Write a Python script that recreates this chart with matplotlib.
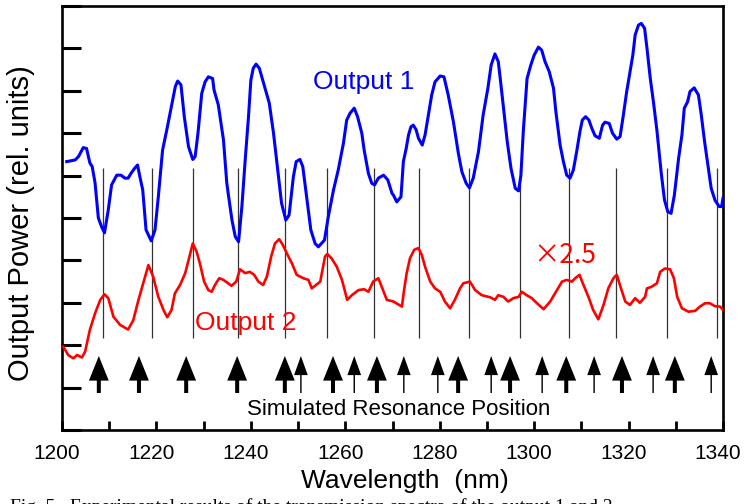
import matplotlib
matplotlib.use('Agg')
import matplotlib.pyplot as plt
import matplotlib.transforms as mtransforms

# Output 1 (blue)
blue_wl = [1201.0, 1202.8, 1203.5, 1204.5, 1205.2, 1205.9, 1206.4, 1207.0, 1207.7, 1208.4,
           1209.0, 1209.8, 1210.5, 1211.6, 1212.5, 1213.3, 1214.0, 1214.6, 1215.3, 1216.0,
           1216.5, 1217.1, 1217.8, 1218.3, 1218.9, 1219.7, 1220.4, 1221.3, 1222.2, 1222.9,
           1223.5, 1224.0, 1224.5, 1225.2, 1225.9, 1226.8, 1227.7, 1228.2, 1228.8, 1229.6,
           1230.3, 1231.0, 1231.9, 1232.2, 1233.1, 1234.2, 1234.9, 1235.2, 1236.0, 1236.7,
           1237.4, 1238.1, 1238.8, 1239.5, 1240.0, 1240.5, 1241.1, 1241.8, 1242.9, 1243.9,
           1244.8, 1245.7, 1246.5, 1247.4, 1248.1, 1249.0, 1249.6, 1250.4, 1251.0, 1251.8,
           1252.7, 1253.6, 1254.3, 1255.6, 1256.4, 1257.5, 1258.5, 1259.6, 1260.3, 1261.0,
           1261.9, 1262.6, 1263.5, 1264.0, 1264.9, 1265.6, 1266.2, 1267.0, 1268.1, 1269.0,
           1269.9, 1270.2, 1270.9, 1271.8, 1272.3, 1272.9, 1273.4, 1273.9, 1274.4, 1275.0,
           1275.5, 1276.3, 1276.9, 1277.6, 1278.3, 1279.0, 1280.1, 1280.9, 1281.8, 1282.9,
           1284.0, 1284.7, 1285.6, 1286.3, 1287.1, 1288.2, 1289.2, 1290.2, 1290.9, 1291.7,
           1292.4, 1292.9, 1293.6, 1294.3, 1295.1, 1296.0, 1296.7, 1297.2, 1297.7, 1298.5,
           1299.3, 1300.0, 1300.9, 1301.6, 1302.3, 1303.2, 1304.1, 1304.6, 1305.5, 1306.2,
           1306.9, 1307.6, 1308.3, 1309.0, 1309.7, 1310.2, 1310.9, 1311.6, 1312.2, 1312.9,
           1313.8, 1314.5, 1315.0, 1315.9, 1316.6, 1317.5, 1318.2, 1318.9, 1319.6, 1320.3,
           1320.9, 1321.4, 1322.1, 1322.7, 1323.4, 1323.9, 1324.6, 1325.3, 1326.0, 1326.9,
           1327.6, 1328.3, 1329.0, 1329.7, 1330.6, 1331.3, 1331.8, 1332.5, 1333.0, 1333.9,
           1334.8, 1335.4, 1336.1, 1336.8, 1337.5, 1338.3, 1339.2, 1339.7, 1340.0]
blue_pw = [6.33, 6.37, 6.45, 6.66, 6.64, 6.30, 6.21, 5.83, 5.00, 4.79,
           4.65, 5.19, 5.78, 6.01, 6.01, 5.94, 5.94, 6.05, 6.16, 6.25,
           5.97, 5.66, 4.72, 4.60, 4.46, 4.72, 5.50, 6.60, 7.08, 7.48,
           7.82, 8.10, 8.23, 8.14, 7.39, 6.68, 6.38, 6.45, 7.00, 7.94,
           8.21, 8.33, 8.29, 8.02, 7.67, 6.84, 5.83, 5.58, 4.95, 4.56,
           4.44, 5.27, 6.37, 7.39, 8.25, 8.53, 8.63, 8.53, 8.10, 7.71,
           7.00, 6.13, 5.35, 4.95, 5.07, 5.97, 6.33, 6.38, 6.21, 5.50,
           4.72, 4.40, 4.32, 4.48, 5.03, 5.66, 6.13, 6.76, 7.31, 7.47,
           7.59, 7.39, 7.00, 6.60, 6.05, 5.82, 5.78, 5.94, 6.01, 5.90,
           5.58, 5.54, 5.38, 5.50, 6.33, 6.64, 6.96, 7.15, 7.19, 7.08,
           6.88, 6.72, 6.96, 7.43, 7.90, 8.21, 8.35, 8.33, 7.90, 7.27,
           6.49, 6.09, 5.82, 5.71, 5.94, 6.56, 7.43, 8.06, 8.61, 8.87,
           8.69, 8.21, 7.51, 6.80, 6.17, 5.70, 5.64, 6.01, 7.04, 8.29,
           8.61, 8.84, 9.03, 8.96, 8.69, 8.45, 8.06, 7.51, 6.72, 6.33,
           6.01, 5.94, 6.13, 6.56, 7.04, 7.31, 7.39, 7.31, 7.12, 6.94,
           6.88, 7.19, 7.26, 7.23, 7.00, 6.86, 6.92, 7.43, 7.98, 8.45,
           8.84, 9.32, 9.55, 9.59, 9.47, 9.00, 8.29, 7.71, 7.07, 6.08,
           5.43, 5.15, 5.11, 5.54, 6.41, 6.96, 7.59, 7.74, 7.98, 8.07,
           7.90, 7.43, 6.80, 6.25, 5.70, 5.42, 5.27, 5.27, 5.47]

# Output 2 (red, x2.5)
red_wl = [1200.3, 1201.3, 1202.4, 1203.2, 1204.2, 1204.9, 1205.9, 1207.0, 1208.1, 1209.0,
          1209.8, 1210.9, 1212.3, 1214.0, 1215.1, 1216.2, 1217.2, 1218.3, 1219.3, 1220.4,
          1221.5, 1222.3, 1223.2, 1223.9, 1225.0, 1226.1, 1227.0, 1227.7, 1228.5, 1229.2,
          1230.1, 1231.0, 1231.7, 1232.4, 1233.3, 1234.2, 1235.2, 1235.9, 1236.9, 1237.7,
          1238.8, 1239.8, 1240.7, 1241.6, 1242.6, 1243.4, 1244.3, 1245.1, 1246.0, 1246.8,
          1247.6, 1248.7, 1249.7, 1251.1, 1252.2, 1252.9, 1253.8, 1254.7, 1255.7, 1256.2,
          1257.1, 1258.2, 1259.3, 1260.4, 1261.4, 1262.8, 1264.0, 1264.9, 1265.9, 1267.0,
          1267.7, 1268.8, 1270.2, 1272.0, 1272.4, 1273.0, 1273.7, 1274.6, 1275.5, 1276.2,
          1276.9, 1278.0, 1279.0, 1280.1, 1281.1, 1282.2, 1283.2, 1284.3, 1285.0, 1286.4,
          1287.5, 1288.9, 1290.7, 1291.7, 1292.4, 1293.5, 1294.5, 1295.6, 1296.7, 1297.4,
          1298.4, 1299.5, 1300.6, 1302.0, 1303.4, 1304.4, 1305.9, 1306.9, 1308.0, 1308.7,
          1309.6, 1310.3, 1311.5, 1312.5, 1313.6, 1314.7, 1315.7, 1316.8, 1317.5, 1318.4,
          1319.3, 1320.3, 1321.4, 1322.4, 1323.5, 1323.9, 1324.9, 1326.0, 1326.7, 1327.7,
          1328.8, 1329.6, 1330.3, 1331.3, 1332.7, 1334.1, 1335.1, 1336.2, 1337.2, 1338.3,
          1339.4, 1340.0]
red_pw = [1.96, 1.77, 1.69, 1.77, 1.71, 1.85, 2.36, 2.75, 3.07, 3.20,
          3.11, 2.67, 2.48, 2.37, 2.59, 3.07, 3.46, 3.89, 3.62, 3.14,
          2.83, 2.66, 2.83, 3.22, 3.42, 3.70, 4.09, 4.40, 4.21, 3.93,
          3.50, 3.30, 3.26, 3.42, 3.58, 3.54, 3.46, 3.40, 3.50, 3.79,
          3.70, 3.73, 3.66, 3.50, 3.42, 3.62, 4.09, 4.40, 4.50, 4.36,
          4.17, 3.93, 3.66, 3.58, 3.54, 3.34, 3.42, 3.50, 4.09, 4.15,
          4.05, 3.85, 3.54, 3.07, 3.18, 3.30, 3.32, 3.26, 3.50, 3.58,
          3.38, 3.07, 3.03, 2.91, 3.26, 3.70, 4.05, 4.25, 4.29, 4.13,
          3.85, 3.50, 3.34, 3.26, 3.03, 2.87, 3.07, 3.34, 3.46, 3.50,
          3.30, 3.18, 3.13, 3.07, 3.18, 3.14, 3.03, 3.11, 3.14, 3.26,
          3.18, 3.11, 2.99, 2.85, 3.03, 3.22, 3.50, 3.54, 3.50, 3.58,
          3.66, 3.46, 3.14, 2.83, 2.61, 2.95, 3.34, 3.58, 3.66, 3.34,
          3.03, 2.95, 3.11, 3.00, 3.14, 3.34, 3.38, 3.46, 3.73, 3.81,
          3.79, 3.58, 3.14, 2.87, 2.79, 2.81, 2.91, 2.99, 2.99, 2.92,
          2.91, 2.83]

# measured dips (vertical marker lines)
dip_wl = [1208.7, 1219.1, 1227.7, 1237.3, 1247.2, 1256.1, 1266.1,
          1275.6, 1286.2, 1297.0, 1307.4, 1317.3, 1328.2, 1338.7]

# simulated resonance positions
big_arrow_wl = [1207.8, 1216.3, 1226.3, 1237.1, 1247.2, 1257.4, 1266.7,
                1283.9, 1294.9, 1306.8, 1318.6, 1329.8]
small_arrow_wl = [1250.6, 1261.9, 1272.4, 1279.6, 1290.9, 1301.7,
                  1312.7, 1325.2, 1337.5]

xtick_pos = list(range(1200, 1341, 10))
xtick_labels = ['1200', '', '1220', '', '1240', '', '1260', '', '1280', '',
                '1300', '', '1320', '', '1340']

plt.rcParams['font.family'] = ['Liberation Sans', 'DejaVu Sans']

fig = plt.figure(figsize=(7.47, 5.04), dpi=100)
ax = fig.add_axes([62/747, 74/504, 661/747, 424/504])

ax.vlines(dip_wl, 2.17, 6.18, color='#333333', lw=0.9, zorder=2)
ax.plot(blue_wl, blue_pw, color='#0000ff', lw=2.2, zorder=3)
ax.plot(red_wl, red_pw, color='#ff0000', lw=1.9, zorder=3)

for wl in big_arrow_wl:
    ax.arrow(wl, 0.873, 0, 0.872, width=0.85, head_width=4.2, head_length=0.58,
             length_includes_head=True, color='black', lw=0)
for wl in small_arrow_wl:
    ax.arrow(wl, 0.873, 0, 0.872, width=0.3, head_width=2.9, head_length=0.45,
             length_includes_head=True, color='black', lw=0)

ax.set_xlim(1200, 1340)
ax.set_ylim(0, 10)
ax.set_xticks(xtick_pos)
ax.set_xticklabels(xtick_labels, fontsize=15)
ax.set_yticks(range(11))
ax.set_yticklabels([])
ax.tick_params(axis='x', direction='in', length=6.5, width=2, pad=10)
ax.tick_params(axis='y', direction='in', length=13.7, width=2.2)
for s in ax.spines.values():
    s.set_linewidth(1.9)

# labels sit a little left of their ticks
shift = mtransforms.ScaledTranslation(-0.05, 0, fig.dpi_scale_trans)
for lbl in ax.get_xticklabels():
    lbl.set_transform(lbl.get_transform() + shift)

ax.text(1253.2, 8.04, 'Output 1', color='#0000ff', fontsize=19, va='baseline')
ax.text(1228.2, 2.36, 'Output 2', color='#ff0000', fontsize=19, va='baseline')
ax.text(1299.8, 3.94, '×2.5', color='#ff0000', fontsize=19, va='baseline',
        family=['Noto Sans CJK JP', 'DejaVu Sans'])
ax.text(1271.4, 0.354, 'Simulated Resonance Position', fontsize=16,
        ha='center', va='baseline')

ax.text(0.519, -0.137, 'Wavelength  (nm)', transform=ax.transAxes, fontsize=19,
        ha='center', va='baseline')
fig.text(21/747, 1 - 223/504, 'Output Power (rel. units)', rotation=90,
         fontsize=21, ha='center', va='center')

# caption of the paper, cut by the bottom edge
fig.text(10/747, -8/504,
         'Fig. 5   Experimental results of the transmission spectra of the output 1 and 2',
         family=['Liberation Serif', 'DejaVu Serif'], fontsize=14, va='baseline')

fig.savefig('out.png', dpi=100)
